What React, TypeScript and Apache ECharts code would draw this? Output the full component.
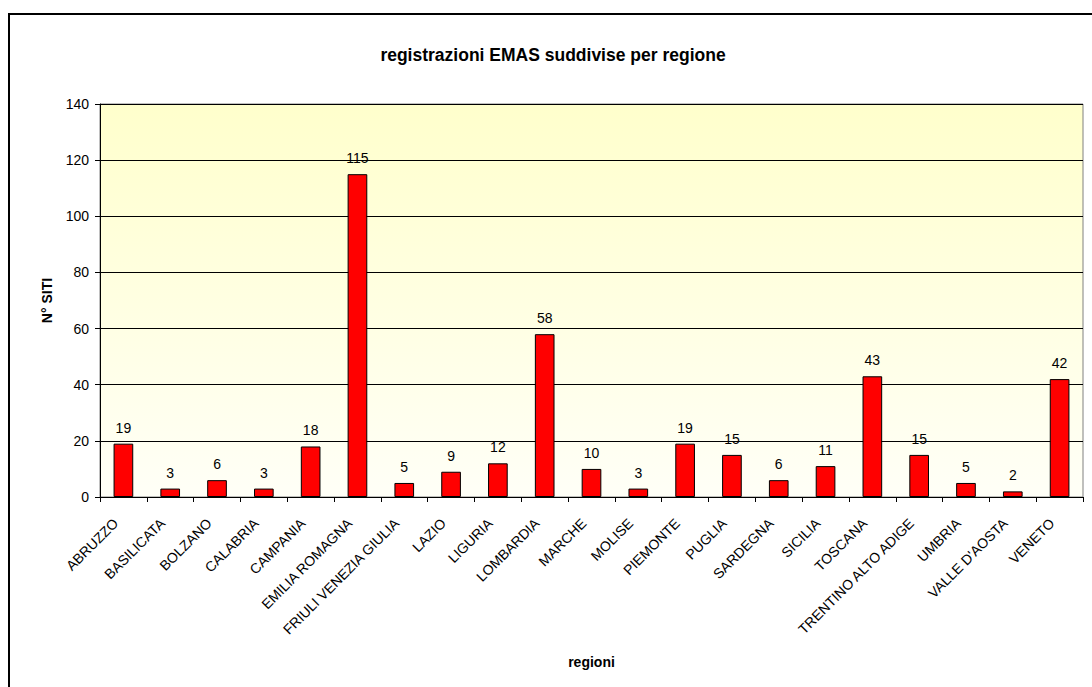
import React, { useEffect, useRef } from "react";
import * as echarts from "echarts";

const regions = [
  "ABRUZZO", "BASILICATA", "BOLZANO", "CALABRIA", "CAMPANIA", "EMILIA ROMAGNA",
  "FRIULI VENEZIA GIULIA", "LAZIO", "LIGURIA", "LOMBARDIA", "MARCHE", "MOLISE",
  "PIEMONTE", "PUGLIA", "SARDEGNA", "SICILIA", "TOSCANA", "TRENTINO ALTO ADIGE",
  "UMBRIA", "VALLE D'AOSTA", "VENETO",
];
const siti = [19, 3, 6, 3, 18, 115, 5, 9, 12, 58, 10, 3, 19, 15, 6, 11, 43, 15, 5, 2, 42];
const titleText = "registrazioni EMAS suddivise per regione";
const yName = "N° SITI";
const xName = "regioni";

export default function App() {
  const ref = useRef<HTMLDivElement>(null);
  useEffect(() => {
    if (!ref.current) return;
    const chart = echarts.init(ref.current, null, { renderer: "svg" });
    const font = "Arial, 'Liberation Sans', sans-serif";
    chart.setOption({
      animation: false,
      backgroundColor: "#ffffff",
      textStyle: { fontFamily: font },
      title: {
        text: titleText,
        left: 548,
        textAlign: "center",
        top: 41,
        textStyle: { fontSize: 17.5, fontWeight: "bold", color: "#000", fontFamily: font },
      },
      graphic: [
        {
          type: "rect",
          shape: { x: 9, y: 14, width: 1200, height: 800 },
          style: { fill: "none", stroke: "#000", lineWidth: 2 },
          silent: true,
          z: 100,
        },
      ],
      grid: {
        left: 100,
        top: 104,
        right: 9,
        bottom: 190,
        show: true,
        backgroundColor: new echarts.graphic.LinearGradient(0, 0, 0, 1, [
          { offset: 0, color: "#FFFFCC" },
          { offset: 1, color: "#FFFFF7" },
        ]),
        borderColor: "#808080",
        borderWidth: 1,
      },
      xAxis: {
        type: "category",
        data: regions,
        name: xName,
        nameLocation: "middle",
        nameGap: 158,
        nameTextStyle: { fontSize: 14, fontWeight: "bold", color: "#000", fontFamily: font },
        axisLine: { lineStyle: { color: "#000", width: 1 } },
        axisTick: { show: true, alignWithLabel: false, length: 5, lineStyle: { color: "#000" } },
        axisLabel: {
          rotate: 45,
          fontSize: 14,
          color: "#000",
          margin: 16,
          padding: [0, 11, 0, 0],
          interval: 0,
          fontFamily: font,
        },
      },
      yAxis: {
        type: "value",
        min: 0,
        max: 140,
        interval: 20,
        name: yName,
        nameLocation: "middle",
        nameGap: 46,
        nameRotate: 90,
        nameTextStyle: { fontSize: 14, fontWeight: "bold", color: "#000", fontFamily: font },
        axisLine: { show: true, lineStyle: { color: "#000", width: 1 } },
        axisTick: { show: true, inside: false, length: 5, lineStyle: { color: "#000" } },
        axisLabel: { fontSize: 14, color: "#000", margin: 11, fontFamily: font },
        splitLine: { show: true, lineStyle: { color: "#000", width: 1 } },
      },
      series: [
        {
          type: "bar",
          data: siti,
          barWidth: "42%",
          itemStyle: { color: "#FF0000", borderColor: "#000", borderWidth: 1 },
          label: { show: true, position: "top", distance: 9, fontSize: 14, color: "#000", fontFamily: font },
        },
      ],
    });
    return () => chart.dispose();
  }, []);
  return (
    <div
      ref={ref}
      style={{ position: "fixed", left: 0, top: 0, width: 1092, height: 687 }}
    />
  );
}
